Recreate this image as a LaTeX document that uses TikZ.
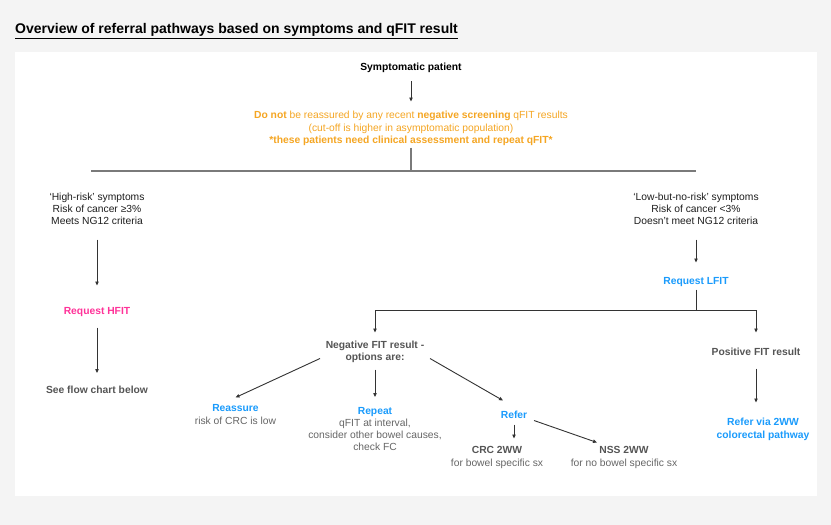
\documentclass[tikz,border=0pt]{standalone}
\usepackage{fontspec}
\setmainfont{Liberation Sans}
\usetikzlibrary{arrows.meta}
\definecolor{bgc}{HTML}{F4F4F4}
\definecolor{ink}{HTML}{1E1E1E}
\definecolor{gry}{HTML}{555555}
\definecolor{gryl}{HTML}{666666}
\definecolor{orng}{HTML}{F5A623}
\definecolor{blu}{HTML}{1A9BFC}
\definecolor{pnk}{HTML}{FF3399}
\definecolor{lnc}{HTML}{333333}
\definecolor{brc}{HTML}{7A7A7A}
\begin{document}
\begin{tikzpicture}[x=1pt,y=-1pt,
  t/.style={font=\fontsize{10.3}{12}\selectfont, align=center, inner sep=0pt, text=ink},
  bt/.style={t, font=\fontsize{10.3}{12}\selectfont\bfseries},
  arr/.style={draw=lnc, line width=0.9pt, -{Triangle[length=4pt,width=3.4pt]}},
  ln/.style={draw=lnc, line width=0.9pt},
  br/.style={draw=brc, line width=1.6pt}]
\fill[bgc] (0,0) rectangle (831,525);
\useasboundingbox (0,0) rectangle (831,525);
\fill[white] (15,52) rectangle (817,496);

\node[anchor=base west, inner sep=0pt, font=\fontsize{14}{16}\selectfont\bfseries, text=black] (title) at (15,33.5) {\underline{Overview of referral pathways based on symptoms and qFIT result}};

\node[bt, text=black] (sym) at (411,68) {Symptomatic patient};
\node[t, text=orng, font=\fontsize{10.3}{12.6}\selectfont] (warn) at (411,128.5) {\textbf{Do not} be reassured by any recent \textbf{negative screening} qFIT results\\(cut-off is higher in asymptomatic population)\\\textbf{*these patients need clinical assessment and repeat qFIT*}};

\node[t] (high) at (97,208.5) {‘High-risk’ symptoms\\Risk of cancer ≥3\%\\Meets NG12 criteria};
\node[t] (low) at (696,208.5) {‘Low-but-no-risk’ symptoms\\Risk of cancer <3\%\\Doesn’t meet NG12 criteria};

\node[bt, text=pnk] (hfit) at (97,312.5) {Request HFIT};
\node[bt, text=gry] (see) at (97,390) {See flow chart below};
\node[bt, text=blu] (lfit) at (696,282.5) {Request LFIT};

\node[bt, text=gry] (neg) at (375,351.5) {Negative FIT result -\\options are:};
\node[bt, text=gry] (pos) at (756,351.5) {Positive FIT result};
\node[bt, text=blu, font=\fontsize{10.3}{13}\selectfont\bfseries] (via) at (763,429) {Refer via 2WW\\colorectal pathway};

\node[t, font=\fontsize{10.3}{13}\selectfont, text=gryl] (reas) at (235.5,415) {\textcolor{blu}{\bfseries Reassure}\\risk of CRC is low};
\node[t, font=\fontsize{10.3}{12.3}\selectfont, text=gryl] (rep) at (375,429) {\textcolor{blu}{\bfseries Repeat}\\qFIT at interval,\\consider other bowel causes,\\check FC};
\node[bt, text=blu] (ref) at (514,414.5) {Refer};
\node[t, font=\fontsize{10.3}{13}\selectfont, text=gryl] (crc) at (497,457) {\textcolor{gry}{\bfseries CRC 2WW}\\for bowel specific sx};
\node[t, font=\fontsize{10.3}{13}\selectfont, text=gryl] (nss) at (624,457) {\textcolor{gry}{\bfseries NSS 2WW}\\for no bowel specific sx};

% top section
\draw[arr] ([yshift=-13pt]sym.center) -- ([yshift=27pt]warn.center);
\coordinate (b1) at (411,171);
\coordinate (b1L) at (91,171);
\coordinate (b1R) at (696,171);
\draw[br] ([yshift=-19pt]warn.center) -- (b1);
\draw[br] (b1L) -- (b1R);

% left branch
\draw[arr] ([yshift=-31pt]high.center) -- ([yshift=27pt]hfit.center);
\draw[arr] ([yshift=-15pt]hfit.center) -- ([yshift=17pt]see.center);

% right branch
\draw[arr] ([yshift=-31pt]low.center) -- ([yshift=20pt]lfit.center);
\coordinate (b2) at (696,310);
\coordinate (b2L) at (375,310);
\coordinate (b2R) at (756,310);
\draw[ln] ([yshift=-7pt]lfit.center) -- (b2);
\draw[ln] (b2L) -- (b2R);
\draw[arr] (b2L) -- ([yshift=19pt]neg.center);
\draw[arr] (b2R) -- ([yshift=19pt]pos.center);
\draw[arr] ([yshift=-17pt]pos.center) -- ([xshift=-7pt,yshift=26.5pt]via.center);

% negative options
\draw[arr] ([xshift=-55pt,yshift=-7pt]neg.center) -- ([yshift=17.5pt]reas.center);
\draw[arr] ([yshift=-18pt]neg.center) -- ([yshift=32pt]rep.center);
\draw[arr] ([xshift=55pt,yshift=-7pt]neg.center) -- ([xshift=-11pt,yshift=14pt]ref.center);
\draw[arr] ([yshift=-10pt]ref.center) -- ([xshift=17pt,yshift=18.5pt]crc.center);
\draw[arr] ([xshift=20pt,yshift=-6pt]ref.center) -- ([xshift=-27pt,yshift=14.5pt]nss.center);
\end{tikzpicture}
\end{document}
